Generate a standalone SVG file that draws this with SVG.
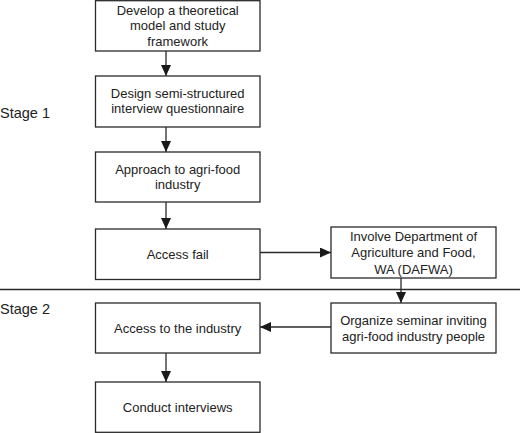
<svg xmlns="http://www.w3.org/2000/svg" width="520" height="433" viewBox="0 0 520 433">
<defs>
<style>
.box{fill:#fff;stroke:#2a2a2a;stroke-width:1.3}
.t{font-family:"Liberation Sans",Arial,sans-serif;font-size:13px;fill:#222;text-anchor:middle}
.st{font-family:"Liberation Sans",Arial,sans-serif;font-size:14.5px;fill:#222}
.c{stroke:#2a2a2a;stroke-width:1.3;fill:none;marker-end:url(#ah)}
</style>
<marker id="ah" markerUnits="userSpaceOnUse" markerWidth="12" markerHeight="11" refX="11" refY="5" orient="auto">
<path d="M0,0 L11,5 L0,10 Z" fill="#1a1a1a"/>
</marker>
</defs>
<rect width="520" height="433" fill="#fff"/>
<text class="st" x="0" y="118">Stage 1</text>
<text class="st" x="0" y="314">Stage 2</text>
<line x1="0" y1="289.5" x2="520" y2="289.5" stroke="#2a2a2a" stroke-width="1.3"/>
<g id="connectors">
<line class="c" x1="166" y1="51" x2="166" y2="76"/>
<line class="c" x1="166" y1="127" x2="166" y2="152"/>
<line class="c" x1="166" y1="202" x2="166" y2="229"/>
<line class="c" x1="260" y1="252.5" x2="331" y2="252.5"/>
<line class="c" x1="401" y1="278" x2="401" y2="303"/>
<line class="c" x1="331" y1="327" x2="260" y2="327"/>
<line class="c" x1="166" y1="353" x2="166" y2="382"/>
</g>
<g id="n1"><rect class="box" x="95.5" y="0.7" width="164.5" height="50.3"/>
<text class="t" x="177.7" y="14.5">Develop a theoretical</text>
<text class="t" x="177.7" y="30.3">model and study</text>
<text class="t" x="177.7" y="46.2">framework</text></g>
<g id="n2"><rect class="box" x="95.5" y="76" width="164.5" height="51"/>
<text class="t" x="177.7" y="97.8">Design semi-structured</text>
<text class="t" x="177.7" y="113.3">interview questionnaire</text></g>
<g id="n3"><rect class="box" x="95.5" y="152" width="164.5" height="50"/>
<text class="t" x="177.7" y="173.8">Approach to agri-food</text>
<text class="t" x="177.7" y="189.3">industry</text></g>
<g id="n4"><rect class="box" x="95.5" y="229" width="164.5" height="50.5"/>
<text class="t" x="177.7" y="258.8">Access fail</text></g>
<g id="n5"><rect class="box" x="331" y="227" width="165" height="51"/>
<text class="t" x="413.5" y="240.8">Involve Department of</text>
<text class="t" x="413.5" y="257">Agriculture and Food,</text>
<text class="t" x="413.5" y="273.5">WA (DAFWA)</text></g>
<g id="n6"><rect class="box" x="331" y="303" width="165" height="50"/>
<text class="t" x="413.5" y="324.5">Organize seminar inviting</text>
<text class="t" x="413.5" y="340.5">agri-food industry people</text></g>
<g id="n7"><rect class="box" x="95.5" y="303" width="164.5" height="50"/>
<text class="t" x="177.7" y="332.7">Access to the industry</text></g>
<g id="n8"><rect class="box" x="95.5" y="382" width="164.5" height="50.3"/>
<text class="t" x="177.7" y="411.7">Conduct interviews</text></g>
</svg>
